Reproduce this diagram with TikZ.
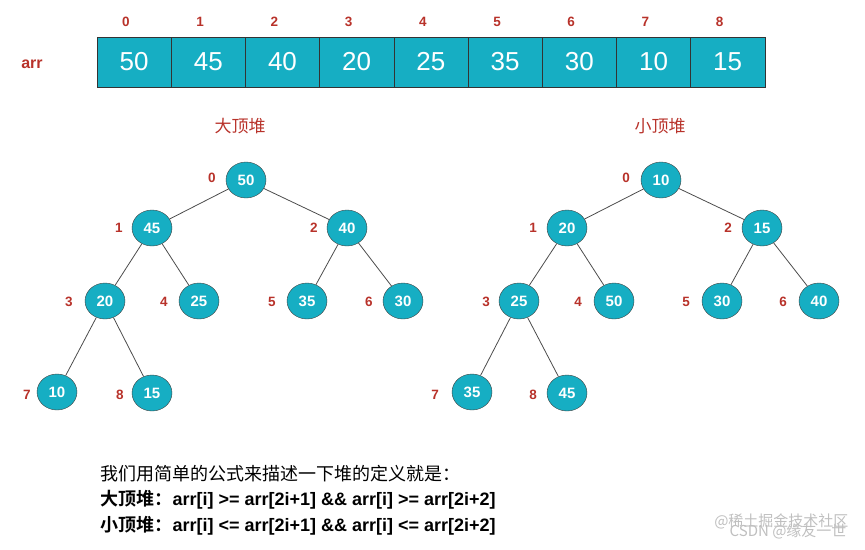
\documentclass[tikz,border=0pt]{standalone}
\usepackage{fontspec}
\setmainfont{Liberation Sans}
\newfontfamily\cjk{Noto Sans CJK SC}
\newfontfamily\cjkb{Noto Sans CJK SC Bold}
\usetikzlibrary{shapes.geometric}
\definecolor{teal1}{HTML}{16AEC3}
\definecolor{red1}{HTML}{B8322A}
\tikzset{
 hn/.style={ellipse,draw=black!75,fill=teal1,minimum width=40pt,minimum height=36pt,inner sep=0pt,text=white,font=\bfseries\fontsize{15}{15}\selectfont},
 cell/.style={draw=black!80,fill=teal1,minimum width=74.2pt,minimum height=50pt,inner sep=0pt,text=white,font=\fontsize{26}{26}\selectfont},
 idx/.style={text=red1,font=\bfseries\fontsize{13.5}{13.5}\selectfont},
 ed/.style={draw=black!70,line width=0.8pt},
 ttl/.style={text=red1,font=\cjk\fontsize{17}{17}\selectfont},
 txt/.style={anchor=west,font=\fontsize{18}{20}\selectfont},
 wm/.style={text=black!25,font=\cjk\fontsize{15}{15}\selectfont}
}
\begin{document}
\begin{tikzpicture}[x=1pt,y=-1pt]
\useasboundingbox (0,0) rectangle (865,549);
\node[idx,font=\bfseries\fontsize{16}{16}\selectfont] (arr) at (32,64) {arr};
\foreach \v [count=\i from 0] in {50,45,40,20,25,35,30,10,15}{
  \node[cell] (c\i) at ({134.1+74.2*\i},62) {\v};
  \node[idx] (ci\i) at ({126+74.2*\i},22) {\i};
}
\node[ttl] (t1) at (240,126) {大顶堆};
\node[ttl] (t2) at (660,126) {小顶堆};
% big heap
\node[hn] (a0) at (246,180) {50};
\node[hn] (a1) at (152,228) {45};
\node[hn] (a2) at (347,228) {40};
\node[hn] (a3) at (105,301) {20};
\node[hn] (a4) at (199,301) {25};
\node[hn] (a5) at (307,301) {35};
\node[hn] (a6) at (403,301) {30};
\node[hn] (a7) at (57,392) {10};
\node[hn] (a8) at (152,393) {15};
% small heap
\node[hn] (b0) at (661,180) {10};
\node[hn] (b1) at (567,228) {20};
\node[hn] (b2) at (762,228) {15};
\node[hn] (b3) at (519,301) {25};
\node[hn] (b4) at (614,301) {50};
\node[hn] (b5) at (722,301) {30};
\node[hn] (b6) at (819,301) {40};
\node[hn] (b7) at (472,392) {35};
\node[hn] (b8) at (567,393) {45};
\foreach \h in {a,b}{
 \draw[ed] (\h0)--(\h1); \draw[ed] (\h0)--(\h2);
 \draw[ed] (\h1)--(\h3); \draw[ed] (\h1)--(\h4);
 \draw[ed] (\h2)--(\h5); \draw[ed] (\h2)--(\h6);
 \draw[ed] (\h3)--(\h7); \draw[ed] (\h3)--(\h8);
}
\foreach \n/\x/\y in {0/212/178,1/119/228,2/314/228,3/69/302,4/164/302,5/272/302,6/369/302,7/27/395,8/120/395}
 \node[idx] (la\n) at (\x,\y) {\n};
\foreach \n/\x/\y in {0/626/178,1/533/228,2/728/228,3/486/302,4/578/302,5/686/302,6/783/302,7/435/395,8/533/395}
 \node[idx] (lb\n) at (\x,\y) {\n};
\node[txt,font=\cjk\fontsize{18}{20}\selectfont] (l1) at (97,474) {我们用简单的公式来描述一下堆的定义就是：};
\node[txt] (l2) at (97,500) {{\cjkb 大顶堆：}\textbf{arr[i] >= arr[2i+1] \&\& arr[i] >= arr[2i+2]}};
\node[txt] (l3) at (97,526) {{\cjkb 小顶堆：}\textbf{arr[i] <= arr[2i+1] \&\& arr[i] <= arr[2i+2]}};
\node[wm,anchor=east] (w1) at (852,521) {@稀土掘金技术社区};
\node[wm,anchor=east] (w2) at (850,531) {CSDN @缘友一世};
\end{tikzpicture}
\end{document}
